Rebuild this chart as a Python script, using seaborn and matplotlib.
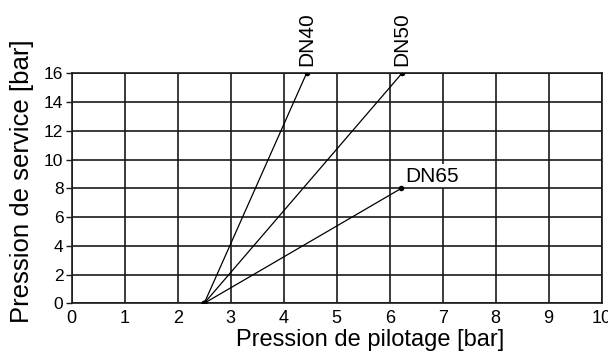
import matplotlib
matplotlib.use("Agg")
import matplotlib.pyplot as plt
import seaborn as sns
import pandas as pd

series = ["DN40", "DN50", "DN65"]
x_start = [2.5, 2.5, 2.5]
y_start = [0, 0, 0]
x_end = [4.43, 6.23, 6.22]
y_end = [16, 16, 8]
x_ticks = [0, 1, 2, 3, 4, 5, 6, 7, 8, 9, 10]
y_ticks = [0, 2, 4, 6, 8, 10, 12, 14, 16]
x_label = "Pression de pilotage [bar]"
y_label = "Pression de service [bar]"

rows = []
for s, xs, ys, xe, ye in zip(series, x_start, y_start, x_end, y_end):
    rows.append({"series": s, "x": xs, "y": ys})
    rows.append({"series": s, "x": xe, "y": ye})
df = pd.DataFrame(rows)

sns.set_theme(style="white")
plt.rcParams["font.family"] = ["Liberation Sans", "DejaVu Sans"]

fig = plt.figure(figsize=(6.08, 3.51), dpi=100)
ax = fig.add_axes([0.118, 0.136, 0.8716, 0.655])

for s in series:
    sub = df[df["series"] == s]
    sns.lineplot(data=sub, x="x", y="y", ax=ax, color="black", lw=0.9,
                 marker="o", markersize=4, markeredgewidth=0,
                 estimator=None, sort=False, zorder=6)

ax.set_xlim(0, 10)
ax.set_ylim(0, 16)
ax.set_xticks(x_ticks)
ax.set_yticks(y_ticks)
ax.set_xticklabels([str(v) for v in x_ticks])
ax.set_yticklabels([str(v) for v in y_ticks])
ax.grid(True, color="#1a1a1a", lw=1.2)
for sp in ax.spines.values():
    sp.set_visible(True)
    sp.set_color("#1a1a1a")
    sp.set_linewidth(1.2)

ax.tick_params(axis="x", length=0, pad=5, labelsize=13, colors="black")
ax.tick_params(axis="y", length=4, width=1, pad=2, labelsize=12.5,
               colors="black", left=True, direction="out")
ax.tick_params(axis="y", color="#1a1a1a")

ax.set_xlabel(x_label, fontsize=17, color="black")
ax.set_ylabel(y_label, fontsize=18.5, color="black")
ax.xaxis.set_label_coords(0.563, -0.11)
ax.yaxis.set_label_coords(-0.072, 0.53)

# layer order: x grid below the DN65 label box, y grid above it
ax.xaxis.set_zorder(1)
ax.yaxis.set_zorder(4)

for s, xe, ye in zip(series, x_end, y_end):
    if s == "DN65":
        ax.annotate(s, (xe, ye), xytext=(3, 2), textcoords="offset points",
                    ha="left", va="bottom", fontsize=15, color="black",
                    bbox=dict(fc="white", ec="none", pad=1.5), zorder=3,
                    annotation_clip=False)
    else:
        ax.annotate(s, (xe, ye), xytext=(0, 5), textcoords="offset points",
                    ha="center", va="bottom", rotation=90, fontsize=15,
                    color="black", annotation_clip=False)

fig.savefig("out.png", dpi=100)
